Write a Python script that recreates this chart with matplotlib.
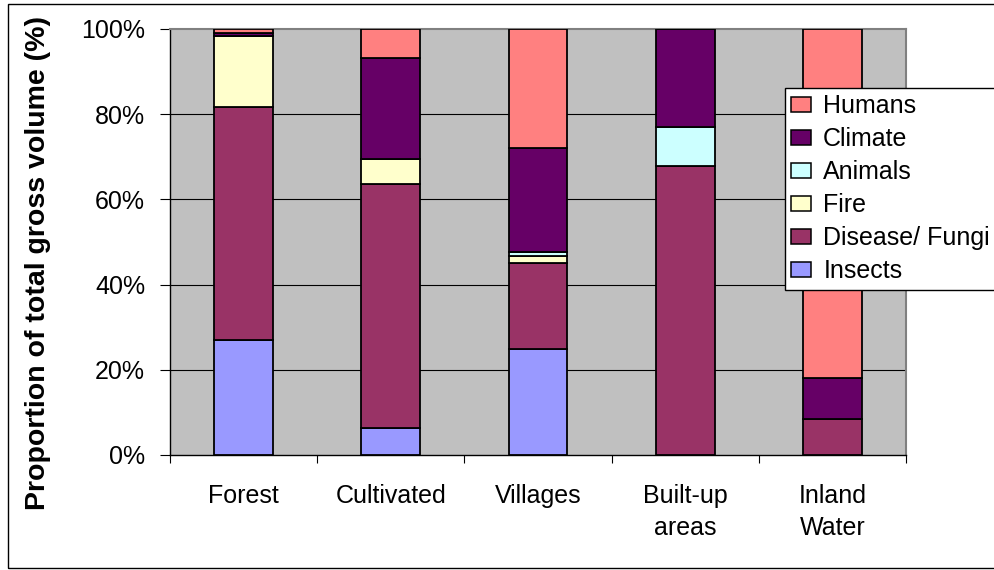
import matplotlib
matplotlib.use("Agg")
import matplotlib.pyplot as plt
from matplotlib.patches import Rectangle
from matplotlib.legend_handler import HandlerPatch
import numpy as np

plt.rcParams["font.family"] = ["Liberation Sans", "DejaVu Sans"]

categories = ["Forest", "Cultivated", "Villages", "Built-up\nareas", "Inland\nWater"]
series_names = ["Insects", "Disease/ Fungi", "Fire", "Animals", "Climate", "Humans"]
insects = [27.0, 6.3, 24.9, 0.0, 0.0]
disease = [54.7, 57.2, 20.2, 67.8, 8.5]
fire = [16.6, 6.1, 1.6, 0.0, 0.0]
animals = [0.0, 0.0, 0.9, 9.3, 0.0]
climate = [0.8, 23.5, 24.4, 22.9, 9.5]
humans = [0.9, 6.9, 28.0, 0.0, 82.0]
colors = ["#9999FF", "#993366", "#FFFFCC", "#CCFFFF", "#660066", "#FF8080"]
yticks = [0, 20, 40, 60, 80, 100]
ytick_labels = ["0%", "20%", "40%", "60%", "80%", "100%"]

W, H = 994, 570
fig = plt.figure(figsize=(W / 100, H / 100), dpi=100)

# outer chart frame
fig.patches.append(Rectangle((8 / W, 2 / H), 2.0, 1 - 6 / H, transform=fig.transFigure,
                             fill=False, edgecolor="black", linewidth=1.0, zorder=0))

ax = fig.add_axes([170 / W, 1 - 455 / H, 736 / W, 426 / H])
ax.set_facecolor("#C0C0C0")

x = np.arange(len(categories))
bottom = np.zeros(len(categories))
handles = []
for name, vals, col in zip(series_names, [insects, disease, fire, animals, climate, humans], colors):
    vals = np.array(vals)
    b = ax.bar(x, vals, width=0.4, bottom=bottom, color=col, edgecolor="black",
               linewidth=1.3, label=name, zorder=3)
    handles.append(b)
    bottom += vals

ax.set_xlim(-0.5, len(categories) - 0.5)
ax.set_ylim(0, 100)

# gridlines
for yv in yticks[1:-1]:
    ax.axhline(yv, color="black", linewidth=0.8, zorder=1)

ax.set_yticks(yticks)
ax.set_yticklabels(ytick_labels, fontsize=18)
ax.tick_params(axis="y", direction="out", length=7, width=0.8, pad=11)

ax.set_xticks(np.arange(-0.5, len(categories), 1.0))
ax.set_xticklabels([])
ax.tick_params(axis="x", which="major", direction="out", length=6, width=0.8)
ax.set_xticks(x, minor=True)
ax.set_xticklabels(categories, minor=True, fontsize=18, linespacing=1.4)
ax.tick_params(axis="x", which="minor", length=0, pad=21)

for side in ["left", "bottom"]:
    ax.spines[side].set_color("black")
    ax.spines[side].set_linewidth(1.0)
for side in ["top", "right"]:
    ax.spines[side].set_color("#808080")
    ax.spines[side].set_linewidth(1.5)

fig.text(38 / W, 1 - 263 / H, "Proportion of total gross volume (%)", rotation=90,
         ha="center", va="center", fontsize=20.5, fontweight="bold")


def square_key(legend, orig_handle, xdescent, ydescent, width, height, fontsize):
    s = 0.48 * fontsize
    return Rectangle((-xdescent + width - s, -ydescent + (height - s) / 2), s, s)


leg = fig.legend(handles[::-1], series_names[::-1], loc="upper left",
                 bbox_to_anchor=(785 / W, 1 - 88 / H), bbox_transform=fig.transFigure,
                 fontsize=18, frameon=True, fancybox=False, shadow=False,
                 handlelength=0.8, handleheight=0.5, handletextpad=0.48,
                 labelspacing=0.36, borderpad=0.25, borderaxespad=0,
                 handler_map={type(handles[0][0]): HandlerPatch(patch_func=square_key)})
leg.get_frame().set_edgecolor("black")
leg.get_frame().set_linewidth(1.0)
leg.get_frame().set_alpha(1)
for p in leg.get_patches():
    p.set_linewidth(1.1)

fig.savefig("out.png", dpi=100)
